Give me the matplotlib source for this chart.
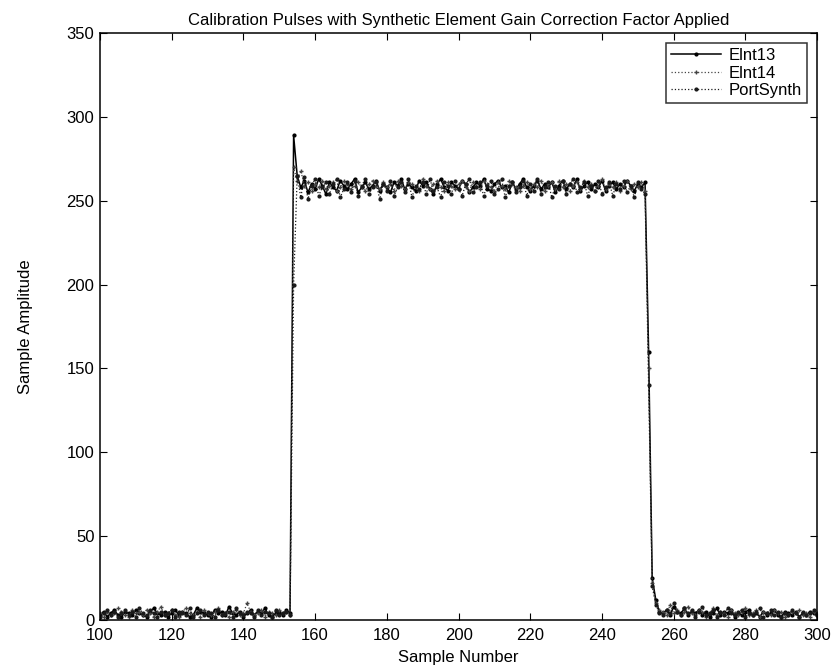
import numpy as np
import matplotlib
matplotlib.use('Agg')
import matplotlib.pyplot as plt

plt.rcParams['font.family'] = ['Liberation Sans', 'DejaVu Sans']

# sample numbers 100..300
samples = list(range(100, 301))

# Elnt13
e13_pre = [3, 5, 2, 4, 6, 3, 2, 5, 4, 3, 6, 4, 3, 2, 5, 7, 4, 3, 5, 2,
           4, 6, 3, 5, 4, 2, 3, 7, 5, 4, 3, 2, 6, 4, 5, 3, 8, 4, 3, 5,
           2, 4, 6, 3, 5, 4, 7, 3, 2, 4, 5, 3, 6, 4]
e13_top = [289, 265, 258, 262, 255, 260, 257, 263, 259, 254,
           261, 258, 256, 262, 259, 257, 260, 263, 255, 258,
           261, 257, 259, 262, 256, 260, 258, 255, 261, 259,
           263, 257, 260, 258, 256, 262, 259, 261, 257, 254,
           260, 263, 258, 256, 261, 259, 257, 262, 260, 255,
           258, 261, 259, 263, 257, 256, 260, 262, 258, 259,
           255, 261, 257, 260, 263, 258, 256, 259, 262, 257,
           260, 258, 261, 255, 259, 262, 257, 260, 258, 263,
           256, 259, 261, 257, 260, 258, 262, 256, 259, 261,
           257, 260, 258, 262, 259, 256, 260, 258, 261]
e13_fall = [160, 25, 12, 5]
e13_post = [4, 6, 3, 8, 5, 4, 7, 3, 5, 4, 6, 3, 5, 2, 4, 7, 3, 5, 4, 6,
            2, 4, 3, 5, 6, 3, 4, 2, 5, 3, 4, 6, 3, 2, 5, 4, 3, 5, 2, 4,
            3, 5, 4, 3]

# Elnt14
e14_pre = [4, 2, 5, 3, 4, 7, 5, 3, 2, 6, 4, 5, 3, 6, 4, 2, 5, 8, 3, 4,
           6, 3, 2, 5, 7, 4, 3, 5, 2, 6, 4, 3, 5, 7, 3, 4, 2, 5, 6, 3,
           4, 10, 5, 3, 4, 6, 2, 5, 4, 3, 6, 4, 5, 3]
e14_top = [270, 262, 268, 259, 261, 256, 260, 258, 262, 257,
           259, 261, 256, 258, 262, 260, 257, 259, 261, 258,
           256, 260, 262, 259, 257, 261, 258, 260, 256, 262,
           259, 257, 261, 260, 258, 256, 263, 259, 257, 260,
           262, 258, 256, 261, 259, 257, 260, 262, 258, 256,
           261, 259, 257, 262, 260, 258, 256, 261, 259, 257,
           262, 260, 258, 256, 259, 261, 257, 260, 258, 262,
           256, 259, 261, 257, 262, 258, 260, 256, 259, 261,
           257, 262, 258, 260, 256, 259, 263, 257, 260, 258,
           261, 256, 259, 262, 257, 260, 258, 261, 256]
e14_fall = [150, 22, 10, 6]
e14_post = [5, 3, 9, 4, 6, 3, 5, 8, 4, 3, 6, 5, 2, 4, 7, 3, 5, 4, 2, 6,
            4, 3, 5, 7, 3, 4, 6, 2, 5, 4, 3, 6, 4, 5, 2, 3, 5, 4, 6, 3,
            4, 2, 5, 4]

# PortSynth
ps_pre = [2, 4, 6, 3, 5, 2, 4, 6, 3, 5, 2, 7, 4, 3, 6, 4, 2, 5, 3, 4,
          6, 2, 5, 4, 3, 7, 2, 4, 6, 3, 5, 4, 2, 6, 3, 4, 5, 2, 7, 4,
          3, 5, 4, 2, 6, 3, 5, 4, 2, 6, 3, 4, 5, 3]
ps_top = [200, 265, 252, 264, 251, 259, 263, 253, 258, 261,
          254, 260, 263, 252, 257, 261, 255, 262, 253, 259,
          263, 254, 258, 261, 251, 260, 256, 262, 253, 258,
          261, 255, 263, 252, 259, 257, 261, 254, 263, 256,
          258, 252, 261, 259, 254, 262, 257, 253, 260, 263,
          255, 258, 261, 253, 259, 262, 254, 257, 263, 252,
          259, 261, 255, 258, 262, 253, 260, 256, 263, 254,
          258, 261, 252, 259, 257, 262, 254, 260, 263, 255,
          258, 261, 253, 259, 256, 262, 254, 258, 261, 253,
          260, 257, 262, 255, 259, 252, 261, 257, 254]
ps_fall = [140, 20, 9, 4]
ps_post = [3, 6, 4, 10, 5, 3, 7, 4, 6, 2, 5, 8, 3, 4, 6, 2, 5, 3, 7, 4,
           3, 5, 6, 2, 4, 3, 5, 7, 2, 4, 6, 3, 5, 2, 4, 3, 6, 4, 2, 5,
           3, 4, 6, 3]

elnt13 = e13_pre + e13_top + e13_fall + e13_post
elnt14 = e14_pre + e14_top + e14_fall + e14_post
portsynth = ps_pre + ps_top + ps_fall + ps_post

fig = plt.figure(figsize=(8.33, 6.7), dpi=100)
ax = fig.add_axes([0.120, 0.0746, 0.861, 0.876])

ax.plot(samples, elnt13, color='black', lw=1.1, marker='.', ms=4, label='Elnt13')
ax.plot(samples, elnt14, color='#444444', lw=0.9, ls=':', marker='+', ms=3.5, label='Elnt14')
ax.plot(samples, portsynth, color='#1a1a1a', lw=0.9, ls=':', marker='.', ms=4, label='PortSynth')

ax.set_xlim(100, 300)
ax.set_ylim(0, 350)
ax.set_xticks(range(100, 301, 20))
ax.set_yticks(range(0, 351, 50))
ax.tick_params(direction='in', top=True, right=True, labelsize=12, length=5, pad=4)
ax.tick_params(axis='x', pad=6)
for s in ax.spines.values():
    s.set_linewidth(1.1)

ax.set_title('Calibration Pulses with Synthetic Element Gain Correction Factor Applied', fontsize=12, pad=6)
ax.set_xlabel('Sample Number', fontsize=12, labelpad=5)
ax.set_ylabel('Sample Amplitude', fontsize=12, labelpad=24)

leg = ax.legend(loc='upper right', fontsize=12, fancybox=False, edgecolor='black',
                handlelength=3.0, handletextpad=0.5, borderaxespad=0.6, labelspacing=0.15,
                borderpad=0.3)
leg.get_frame().set_linewidth(1.1)

fig.savefig('out.png', dpi=100)
